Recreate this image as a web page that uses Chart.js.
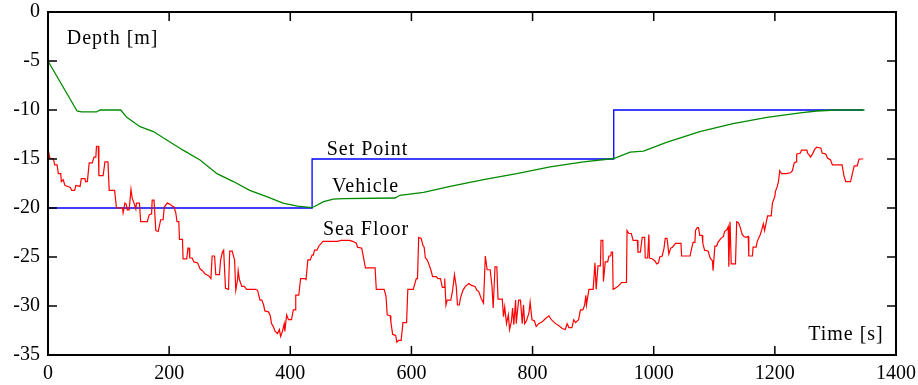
<!DOCTYPE html>
<html>
<head>
<meta charset="utf-8">
<script src="https://cdn.jsdelivr.net/npm/chart.js@4"></script>
<style>
  body { margin: 0; background: #fff; }
  #wrap { width: 918px; height: 385px; }
</style>
</head>
<body>
<div id="wrap"><canvas id="chart"></canvas></div>
<script>
// [time s, depth m]
const setPoint = [[0, -20], [436, -20], [436, -15], [934, -15], [934, -10], [1346, -10]];

const vehicle = [
  [0, -5], [48, -10.1], [55, -10.2], [80, -10.2], [86, -10.0], [120, -10.0], [130, -10.75],
  [152, -11.7], [174, -12.2], [196, -13.06], [223, -14.1], [251, -15.1], [279, -16.5],
  [306, -17.3], [333, -18.2], [361, -18.85], [388, -19.5], [412, -19.8], [436, -19.97],
  [455, -19.35], [471, -19.1], [488, -19.05], [573, -18.98], [581, -18.7], [620, -18.4],
  [664, -17.8], [719, -17.1], [774, -16.5], [829, -15.8], [884, -15.3], [934, -14.95],
  [961, -14.3], [983, -14.2], [1021, -13.3], [1076, -12.2], [1131, -11.4], [1187, -10.75],
  [1242, -10.3], [1269, -10.1], [1300, -10.0], [1348, -10.0]
];

const seaFloor = [
  [1, -14.25], [3, -14.9], [9, -15.0], [11, -15.6], [15, -15.6], [17, -16.5], [21, -16.5],
  [22, -17.3], [25, -17.1], [28, -17.7], [33, -17.8], [37, -17.9], [39, -18.2], [44, -18.2],
  [46, -17.7], [53, -17.8], [55, -17.0], [61, -17.0], [62, -17.3], [65, -17.3], [68, -15.4],
  [73, -15.4], [76, -14.8], [79, -14.8], [80, -13.7], [83, -13.7], [84, -16.7], [91, -16.7],
  [94, -15.3], [99, -15.3], [101, -18.2], [110, -18.2], [113, -20.0], [123, -20.0], [124, -20.5],
  [127, -19.5], [129, -19.6], [131, -20.2], [134, -20.2], [137, -18.1], [139, -19.0], [142, -19.5],
  [145, -20.1], [146, -19.5], [151, -19.5], [153, -21.4], [164, -21.4], [167, -20.7], [171, -20.6],
  [172, -19.2], [175, -19.2], [178, -22.3], [182, -22.4], [186, -21.2], [190, -21.2], [192, -19.9],
  [197, -19.5], [201, -19.6], [205, -19.8], [208, -19.9], [211, -20.5], [213, -21.4], [216, -21.4],
  [217, -23.2], [222, -23.2], [223, -25.2], [229, -25.2], [231, -24.1], [233, -24.1], [234, -25.1],
  [238, -25.1], [241, -25.5], [247, -25.6], [251, -26.2], [255, -26.4], [259, -26.7], [265, -26.9],
  [269, -27.2], [271, -24.9], [275, -24.9], [277, -26.8], [283, -26.8], [285, -25.3], [288, -24.5],
  [290, -24.3], [293, -28.2], [298, -28.3], [300, -24.4], [304, -24.4], [308, -25.3], [310, -28.4],
  [313, -27.3], [314, -26.4], [316, -27.3], [320, -28.0], [324, -28.0], [328, -28.3], [343, -28.3],
  [346, -28.4], [350, -29.4], [353, -29.4], [356, -29.9], [358, -30.5], [364, -30.6], [367, -31.0],
  [369, -31.8], [372, -32.1], [375, -32.6], [379, -32.8], [382, -32.4], [384, -33.1], [387, -32.6],
  [390, -31.8], [391, -32.6], [394, -30.9], [397, -31.4], [402, -31.4], [405, -30.4], [408, -30.4],
  [409, -28.9], [414, -28.9], [417, -27.2], [424, -27.2], [426, -27.3], [429, -25.3], [433, -25.3],
  [436, -24.8], [438, -24.8], [440, -24.3], [444, -24.3], [447, -23.9], [454, -23.4], [478, -23.4],
  [484, -23.3], [498, -23.3], [503, -23.4], [509, -23.6], [511, -24.0], [518, -24.1], [521, -25.1],
  [524, -26.1], [540, -26.1], [542, -28.3], [555, -28.3], [558, -29.0], [560, -30.9], [565, -31.0],
  [566, -31.6], [569, -32.9], [574, -33.0], [576, -33.7], [579, -33.5], [583, -33.5], [586, -31.7],
  [592, -31.7], [594, -28.3], [603, -28.3], [608, -27.2], [610, -27.2], [612, -23.0], [616, -23.1],
  [619, -23.8], [621, -24.0], [623, -25.1], [626, -25.3], [628, -25.6], [632, -26.3], [635, -27.0],
  [641, -27.0], [644, -27.2], [648, -27.2], [651, -28.1], [654, -28.1], [655, -27.2], [657, -29.9],
  [659, -29.4], [665, -29.4], [668, -28.4], [671, -26.8], [674, -28.0], [676, -29.9], [679, -29.9],
  [681, -29.2], [685, -28.4], [689, -28.0], [695, -27.7], [699, -27.9], [705, -28.0], [708, -28.4],
  [711, -28.5], [715, -29.2], [719, -29.7], [722, -24.9], [725, -26.3], [730, -26.3], [733, -28.0],
  [735, -30.2], [738, -26.0], [741, -26.0], [743, -29.3], [750, -29.3], [752, -31.1], [754, -30.1],
  [757, -31.8], [760, -30.9], [762, -32.4], [765, -31.6], [767, -30.2], [769, -31.9], [772, -29.4],
  [773, -31.8], [777, -29.4], [780, -29.4], [783, -31.8], [785, -29.9], [787, -31.8], [790, -31.5],
  [794, -30.7], [796, -29.6], [799, -31.4], [803, -31.5], [806, -32.1], [810, -31.8], [816, -31.6],
  [821, -31.3], [827, -31.0], [831, -31.4], [838, -31.8], [843, -32.0], [849, -32.3], [854, -32.4],
  [857, -31.8], [860, -32.2], [865, -32.2], [868, -31.4], [871, -31.7], [876, -31.4], [879, -30.4],
  [883, -30.4], [886, -29.9], [888, -28.9], [889, -29.9], [893, -28.3], [900, -28.3], [903, -25.6],
  [905, -28.3], [908, -25.9], [912, -25.9], [913, -23.3], [916, -23.3], [917, -27.5], [920, -25.5],
  [924, -25.5], [926, -24.9], [929, -24.9], [930, -24.5], [932, -24.5], [933, -28.3], [936, -28.2],
  [941, -28.0], [947, -27.6], [955, -27.6], [956, -22.3], [959, -22.6], [963, -22.6], [966, -23.3],
  [973, -23.3], [974, -24.5], [978, -24.5], [981, -23.0], [985, -23.0], [986, -25.1], [990, -25.1],
  [992, -22.7], [993, -25.1], [998, -25.2], [1002, -25.4], [1005, -25.7], [1008, -25.6], [1010, -25.0],
  [1014, -24.9], [1017, -24.1], [1019, -23.1], [1022, -23.1], [1025, -24.7], [1028, -24.1], [1031, -24.0],
  [1036, -23.6], [1045, -23.6], [1046, -24.9], [1060, -24.9], [1062, -24.3], [1065, -23.5], [1068, -23.5],
  [1069, -22.3], [1072, -22.0], [1074, -22.0], [1076, -22.8], [1080, -22.8], [1081, -23.6], [1084, -24.3],
  [1090, -24.4], [1093, -25.1], [1097, -25.4], [1098, -26.4], [1101, -23.9], [1104, -23.9], [1106, -23.5],
  [1111, -23.1], [1115, -22.9], [1117, -22.4], [1121, -22.2], [1123, -21.9], [1124, -26.0], [1126, -21.4],
  [1128, -25.7], [1135, -25.7], [1137, -21.4], [1140, -21.5], [1143, -22.0], [1146, -22.7], [1149, -22.9],
  [1152, -23.0], [1156, -22.9], [1157, -24.9], [1163, -24.9], [1164, -24.0], [1169, -24.0], [1171, -23.4],
  [1176, -22.7], [1178, -22.3], [1181, -21.6], [1183, -22.3], [1188, -20.8], [1194, -20.8], [1196, -19.5],
  [1200, -18.8], [1201, -18.3], [1204, -17.8], [1206, -17.3], [1208, -16.2], [1211, -16.5], [1219, -16.5],
  [1226, -16.4], [1229, -16.2], [1232, -15.4], [1235, -15.3], [1236, -14.5], [1242, -14.4], [1244, -14.1],
  [1253, -14.1], [1254, -14.4], [1257, -14.6], [1259, -14.8], [1262, -14.5], [1266, -14.0], [1269, -13.8],
  [1276, -13.9], [1278, -14.4], [1284, -14.5], [1287, -14.9], [1292, -15.1], [1295, -15.6], [1311, -15.6],
  [1314, -16.7], [1317, -17.3], [1325, -17.3], [1328, -16.5], [1331, -15.7], [1336, -15.7], [1339, -15.0],
  [1346, -15.0]
];

const labels = [
  { text: 'Depth [m]', t: 31, d: -2.75 },
  { text: 'Set Point', t: 460, d: -14.1 },
  { text: 'Vehicle', t: 469, d: -17.85 },
  { text: 'Sea Floor', t: 454, d: -22.25 },
  { text: 'Time [s]', t: 1255, d: -32.95 }
];

const toXY = arr => arr.map(p => ({ x: p[0], y: p[1] }));

Chart.defaults.font.family = "'Liberation Serif', 'Times New Roman', serif";
Chart.defaults.font.size = 20;
Chart.defaults.color = '#000';

// frame, inward tick marks and the in-plot texts
const framePlugin = {
  id: 'frame',
  afterDraw(chart) {
    const { ctx, chartArea: a, scales } = chart;
    ctx.save();
    ctx.strokeStyle = '#000';
    ctx.lineWidth = 1.5;
    ctx.beginPath();
    scales.x.ticks.forEach(tk => {
      const px = scales.x.getPixelForValue(tk.value);
      ctx.moveTo(px, a.bottom); ctx.lineTo(px, a.bottom - 9);
      ctx.moveTo(px, a.top); ctx.lineTo(px, a.top + 9);
    });
    scales.y.ticks.forEach(tk => {
      const py = scales.y.getPixelForValue(tk.value);
      ctx.moveTo(a.left, py); ctx.lineTo(a.left + 9, py);
      ctx.moveTo(a.right, py); ctx.lineTo(a.right - 9, py);
    });
    ctx.stroke();
    ctx.lineWidth = 2;
    ctx.strokeRect(a.left, a.top, a.right - a.left, a.bottom - a.top);

    ctx.fillStyle = '#000';
    ctx.font = "20px 'Liberation Serif', 'Times New Roman', serif";
    ctx.letterSpacing = '1px';
    ctx.textAlign = 'left';
    ctx.textBaseline = 'middle';
    labels.forEach(l => {
      ctx.fillText(l.text, scales.x.getPixelForValue(l.t), scales.y.getPixelForValue(l.d));
    });
    ctx.restore();
  }
};

new Chart(document.getElementById('chart'), {
  type: 'line',
  data: {
    datasets: [
      { label: 'Sea Floor', data: toXY(seaFloor), borderColor: '#ff0000', borderWidth: 1.2 },
      { label: 'Vehicle', data: toXY(vehicle), borderColor: '#008a00', borderWidth: 1.3 },
      { label: 'Set Point', data: toXY(setPoint), borderColor: '#0000ff', borderWidth: 1.3 }
    ]
  },
  options: {
    responsive: true,
    maintainAspectRatio: false,
    animation: false,
    elements: { point: { radius: 0 }, line: { tension: 0 } },
    layout: { padding: 0 },
    plugins: { legend: { display: false }, tooltip: { enabled: false } },
    scales: {
      x: {
        type: 'linear', min: 0, max: 1400,
        ticks: { stepSize: 200, padding: 7, maxRotation: 0, callback: v => String(v) },
        grid: { display: false, drawTicks: false },
        border: { display: false },
        afterFit(s) { s.height = 30; s.paddingLeft = 0; s.paddingRight = 22; }
      },
      y: {
        type: 'linear', min: -35, max: 0,
        ticks: { stepSize: 5, padding: 8, callback: v => String(v) },
        grid: { display: false, drawTicks: false },
        border: { display: false },
        afterFit(s) { s.width = 48; s.paddingTop = 12; s.paddingBottom = 0; }
      }
    }
  },
  plugins: [framePlugin]
});
</script>
</body>
</html>
